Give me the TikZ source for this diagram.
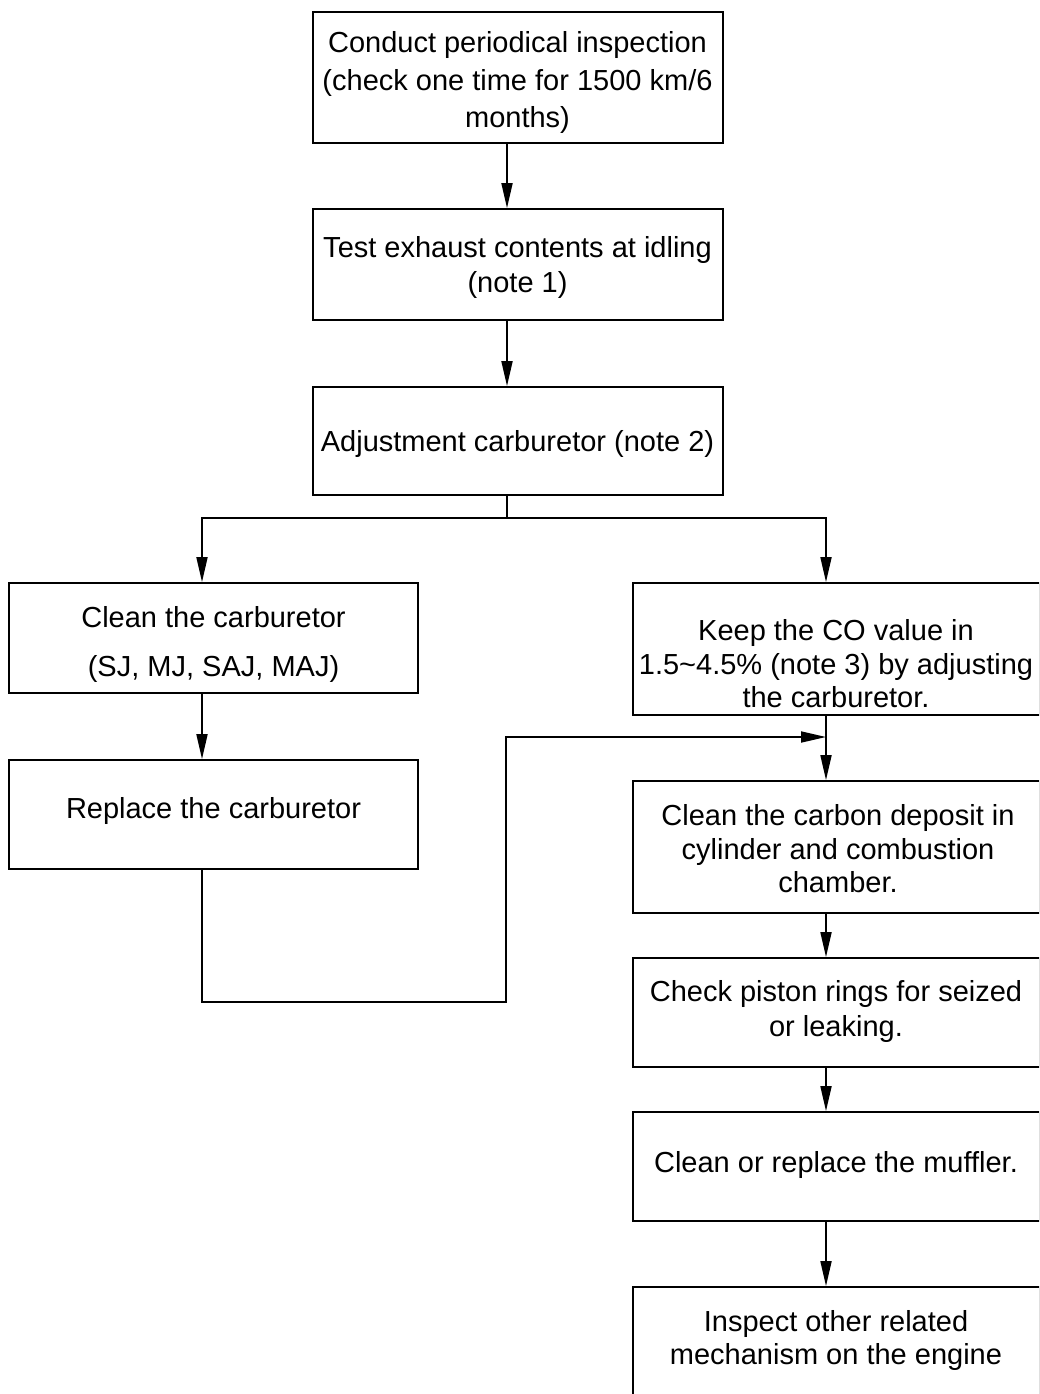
\documentclass[tikz,border=0pt]{standalone}
\usepackage{fontspec}
\setmainfont{Liberation Sans}
\usetikzlibrary{arrows.meta}
\begin{document}
\begin{tikzpicture}[x=1pt,y=-1pt,
  box/.style={draw, line width=1.8pt, inner sep=0pt},
  txt/.style={anchor=north, inner sep=0pt, align=center, font=\fontsize{29}{#1}\selectfont},
  txt/.default=35,
  conn/.style={line width=1.8pt},
  arr/.style={conn, -{Triangle[length=25pt,width=11pt]}}]
\useasboundingbox (0,0) rectangle (1039,1394);
\clip (0,0) rectangle (1039,1394);
\fill[white] (0,0) rectangle (1039,1394);
\coordinate (cx) at (507,0);
\coordinate (lx) at (202,0);
\coordinate (rx) at (826,0);
% boxes
\node[box, minimum width=410pt, minimum height=131pt] (b1) at (518,77.5) {};
\node[box, minimum width=410pt, minimum height=111pt] (b2) at (518,264.5) {};
\node[box, minimum width=410pt, minimum height=108pt] (b3) at (518,441) {};
\node[box, minimum width=409pt, minimum height=110pt] (cl) at (213.5,638) {};
\node[box, minimum width=409pt, minimum height=109pt] (rp) at (213.5,814.5) {};
\node[box, minimum width=406.5pt, minimum height=132pt] (keep) at (836.25,649) {};
\node[box, minimum width=406.5pt, minimum height=132pt] (carbon) at (836.25,847) {};
\node[box, minimum width=406.5pt, minimum height=109pt] (piston) at (836.25,1012.5) {};
\node[box, minimum width=406.5pt, minimum height=109pt] (muffler) at (836.25,1166.5) {};
\node[box, minimum width=406.5pt, minimum height=110pt] (last) at (836.25,1342) {};
% texts
\node[txt=37.5] (t1) at (517.5,31.7) {Conduct periodical inspection\\(check one time for 1500 km/6\\months)};
\node[txt] (t2) at (517.5,236.5) {Test exhaust contents at idling\\(note 1)};
\node[txt] (t3) at (517.5,430) {Adjustment carburetor (note 2)};
\node[txt=49] (tcl) at (213.5,606.7) {Clean the carburetor\\(SJ, MJ, SAJ, MAJ)};
\node[txt] (trp) at (213.5,797.7) {Replace the carburetor};
\node[txt=33.5] (tkeep) at (836,619.7) {Keep the CO value in\\1.5\textasciitilde4.5\% (note 3) by adjusting\\the carburetor.};
\node[txt=33.5] (tcarbon) at (838,804.7) {Clean the carbon deposit in\\cylinder and combustion\\chamber.};
\node[txt=35] (tpiston) at (836,980.7) {Check piston rings for seized\\or leaking.};
\node[txt] (tmuffler) at (836,1151.7) {Clean or replace the muffler.};
\node[txt=33] (tlast) at (836,1310.7) {Inspect other related\\mechanism on the engine};
% connectors
\coordinate (loopb) at (506,1002);
\coordinate (j) at (826,737);
\draw[arr] (b1.south -| cx) -- (b2.north -| cx);
\draw[arr] (b2.south -| cx) -- (b3.north -| cx);
\draw[conn] (b3.south -| cx) -- ++(0,22) coordinate (split);
\draw[arr] (split) -| (cl.north -| lx);
\draw[arr] (split) -| (keep.north -| rx);
\draw[arr] (cl.south -| lx) -- (rp.north -| lx);
\draw[arr] (rp.south -| lx) |- (loopb) |- (j);
\draw[arr] (keep.south -| rx) -- (carbon.north -| rx);
\draw[arr] (carbon.south -| rx) -- (piston.north -| rx);
\draw[arr] (piston.south -| rx) -- (muffler.north -| rx);
\draw[arr] (muffler.south -| rx) -- (last.north -| rx);
\end{tikzpicture}
\end{document}
